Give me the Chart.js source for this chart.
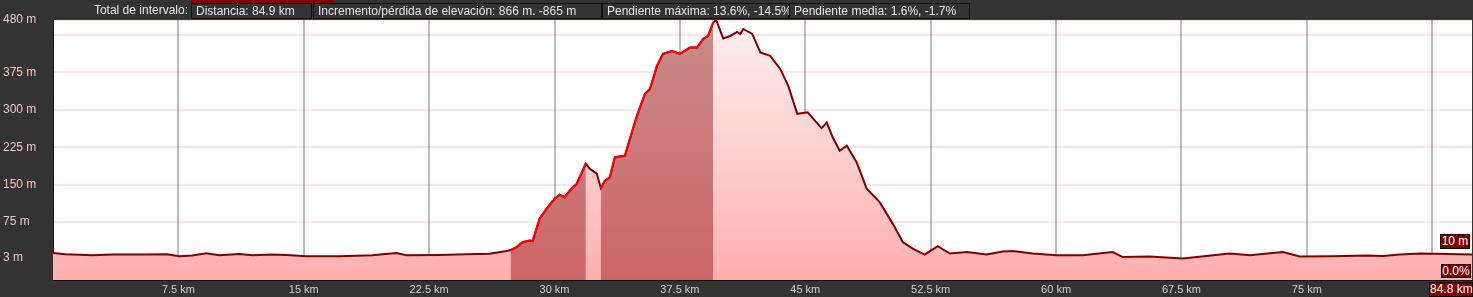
<!DOCTYPE html>
<html>
<head>
<meta charset="utf-8">
<script src="https://cdn.jsdelivr.net/npm/chart.js@4/dist/chart.umd.min.js"></script>
<style>
    html, body { margin: 0; padding: 0; background: #333; }
    body { font-family: "Liberation Sans", Arial, sans-serif; font-size: 12px; color: #e6e6e6; }
    #wrap { position: relative; width: 1473px; height: 297px; overflow: hidden; }
    #chartBox { position: absolute; left: 0; top: 0; width: 1473px; height: 297px; }
    .hdr { position: absolute; top: 3px; height: 16px; line-height: 15px; white-space: nowrap; }
    .box { box-sizing: border-box; border: 1px solid #111; background: #333; padding-left: 4px; }
    .tag { position: absolute; box-sizing: border-box; border: 1px solid #000; background: #800000;
           color: #fff; text-align: center; font-size: 12px; line-height: 13px; white-space: nowrap; }
</style>
</head>
<body>
<div id="wrap">
    <div id="chartBox"><canvas id="profileChart"></canvas></div>

    <div style="position:absolute;left:191px;top:0;width:142px;height:3px;background:#8b0000;"></div>
    <div class="hdr" style="left:60px;width:128px;text-align:right;">Total de intervalo:</div>
    <div class="hdr box" style="left:191px;width:121px;">Distancia: 84.9 km</div>
    <div class="hdr box" style="left:313px;width:289px;">Incremento/pérdida de elevación: 866 m. -865 m</div>
    <div class="hdr box" style="left:602px;width:187px;">Pendiente máxima: 13.6%, -14.5%</div>
    <div class="hdr box" style="left:789px;width:181px;">Pendiente media: 1.6%, -1.7%</div>

    <div class="tag" style="left:1440px;top:234px;width:30px;height:15px;">10 m</div>
    <div class="tag" style="left:1441px;top:264px;width:30px;height:14px;">0.0%</div>
    <div class="tag" style="left:1429px;top:282px;width:44px;height:15px;">84.8 km</div>
</div>

<script>
// elevation profile
const distKm = [
    0.0, 0.74, 1.57, 2.35, 3.55, 5.16, 6.84, 7.55, 8.33, 9.17,
    9.95, 11.15, 11.93, 13.12, 13.96, 15.16, 17.13, 19.11, 20.54, 21.14,
    23.11, 24.73, 26.11, 27.13, 27.37, 27.73, 28.09, 28.51, 28.69, 29.11,
    29.53, 30.01, 30.31, 30.61, 30.91, 31.33, 31.87, 32.11, 32.53, 32.77,
    33.01, 33.31, 33.61, 34.21, 34.51, 34.93, 35.41, 35.71, 36.13, 36.49,
    37.03, 37.51, 38.11, 38.53, 38.89, 39.19, 39.49, 39.67, 40.09, 40.51,
    40.93, 41.11, 41.29, 41.83, 42.31, 42.90, 43.50, 43.98, 44.52, 45.14,
    45.98, 46.28, 46.64, 47.06, 47.48, 48.07, 48.67, 49.45, 50.23, 50.83,
    51.43, 52.14, 52.92, 53.64, 54.66, 55.85, 56.81, 57.41, 58.60, 60.04,
    61.59, 63.39, 63.99, 65.60, 67.58, 70.39, 71.59, 73.56, 74.58, 76.56,
    78.59, 79.55, 80.57, 81.77, 84.88
];
const elevM = [
    13, 10.4, 9.8, 8.4, 10, 10, 10.4, 6.4, 8, 12.4,
    8.4, 11, 8.4, 10, 9, 6.4, 6.4, 8.4, 13, 8.4,
    9, 10.4, 11.8, 17, 19, 25, 35, 38, 37, 82,
    102, 122, 130, 125, 138, 152, 192, 182, 172, 143,
    158, 165, 205, 208, 242, 288, 332, 342, 388, 412,
    418, 412, 425, 425, 442, 448, 475, 480, 443, 448,
    456, 452, 462, 452, 415, 408, 382, 348, 292, 295,
    263, 275, 245, 218, 228, 195, 142, 115, 72, 35,
    22, 10, 27, 12, 15, 10, 16, 17, 12, 8.5,
    8.5, 15, 5, 6, 2, 12, 8.5, 15, 6, 6.5,
    8, 7, 10, 12, 10
];

// highlighted climbing stretches (km)
const climbFrom = [27.37, 32.77];
const climbTo = [31.87, 39.49];

const xTicks = [7.5, 15, 22.5, 30, 37.5, 45, 52.5, 60, 67.5, 75, 82.5];
const yTicks = [3, 75, 150, 225, 300, 375, 450, 480];
const yHidden = [450];
const xHidden = [82.5];

function inClimb(km) {
    for (let i = 0; i < climbFrom.length; i++) {
        if (km >= climbFrom[i] && km <= climbTo[i]) return true;
    }
    return false;
}

const profile = distKm.map(function (d, i) { return { x: d, y: elevM[i] }; });
const climb = distKm.map(function (d, i) { return { x: d, y: inClimb(d) ? elevM[i] : null }; });

const plotBg = {
    id: 'plotBg',
    beforeDraw: function (chart) {
        const a = chart.chartArea;
        chart.ctx.save();
        chart.ctx.fillStyle = '#ffffff';
        chart.ctx.fillRect(a.left, a.top, a.right - a.left, a.bottom - a.top);
        chart.ctx.restore();
    }
};

function profileFill(context) {
    const chart = context.chart;
    const a = chart.chartArea;
    if (!a) return '#ffb3b3';
    const g = chart.ctx.createLinearGradient(0, a.top, 0, a.bottom);
    g.addColorStop(0, '#fff0f0');
    g.addColorStop(1, '#ffafaf');
    return g;
}

const fontFamily = '"Liberation Sans", Arial, sans-serif';

new Chart(document.getElementById('profileChart'), {
    type: 'line',
    data: {
        datasets: [
            {
                label: 'climb',
                data: climb,
                order: 0,
                borderColor: '#ff0000',
                borderWidth: 2,
                backgroundColor: 'rgba(130,0,0,0.42)',
                fill: 'start',
                spanGaps: false,
                pointRadius: 0,
                tension: 0
            },
            {
                label: 'profile',
                data: profile,
                order: 1,
                borderColor: '#800000',
                borderWidth: 2,
                backgroundColor: profileFill,
                fill: 'start',
                pointRadius: 0,
                tension: 0
            }
        ]
    },
    plugins: [plotBg],
    options: {
        responsive: true,
        maintainAspectRatio: false,
        devicePixelRatio: 1,
        animation: false,
        layout: { padding: { top: 20, left: 3, right: 1, bottom: 0 } },
        plugins: { legend: { display: false }, tooltip: { enabled: false } },
        scales: {
            x: {
                type: 'linear',
                min: 0,
                max: 84.88,
                z: 1,
                afterFit: function (s) { s.height = 17; },
                afterBuildTicks: function (s) { s.ticks = xTicks.map(function (v) { return { value: v }; }); },
                ticks: {
                    color: '#d0d0d0',
                    padding: 3,
                    maxRotation: 0,
                    autoSkip: false,
                    font: { family: fontFamily, size: 11 },
                    callback: function (v) { return xHidden.indexOf(v) !== -1 ? '' : v + ' km'; }
                },
                grid: { color: 'rgba(120,120,120,0.5)', lineWidth: 2, drawTicks: false },
                border: { display: true, color: '#111', width: 1 }
            },
            y: {
                type: 'linear',
                min: -41,
                max: 480,
                z: 1,
                afterFit: function (s) { s.width = 50; },
                afterBuildTicks: function (s) { s.ticks = yTicks.map(function (v) { return { value: v }; }); },
                ticks: {
                    color: '#f2c4c4',
                    crossAlign: 'far',
                    autoSkip: false,
                    font: { family: fontFamily, size: 12 },
                    callback: function (v) { return yHidden.indexOf(v) !== -1 ? '' : v + ' m'; }
                },
                grid: { color: 'rgba(255,60,60,0.13)', lineWidth: 2, drawTicks: false },
                border: { display: true, color: '#111', width: 1 }
            }
        }
    }
});
</script>
</body>
</html>
